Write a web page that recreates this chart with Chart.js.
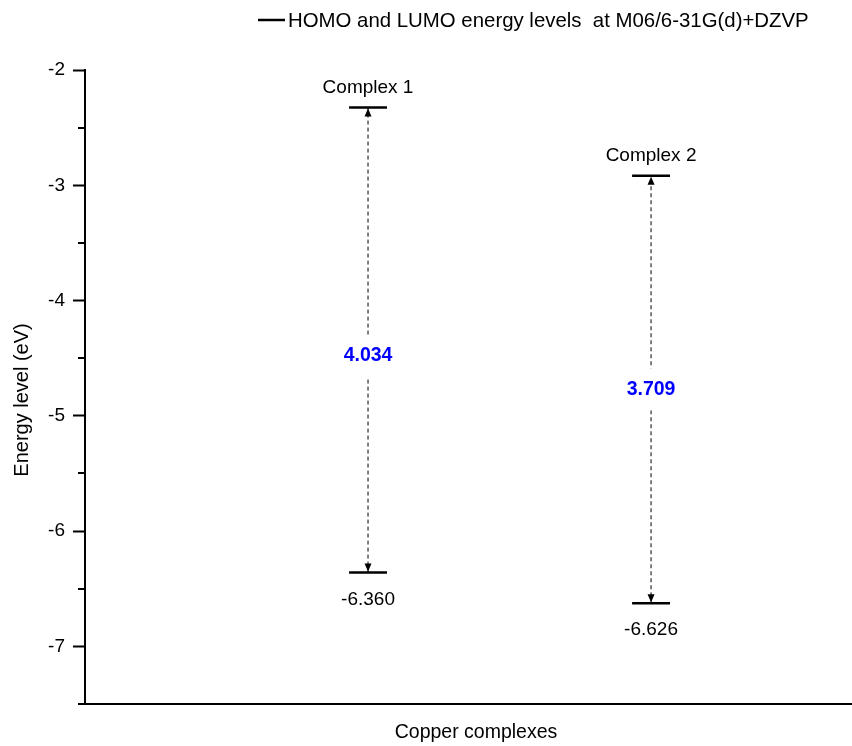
<!DOCTYPE html>
<html>
<head>
<meta charset="utf-8">
<script src="https://cdn.jsdelivr.net/npm/chart.js@4/dist/chart.umd.min.js"></script>
<style>
  body { margin: 0; background: #fff; }
  #wrap { width: 852px; height: 746px; }
</style>
</head>
<body>
<div id="wrap"><canvas id="c" width="852" height="746"></canvas></div>
<script>
// ===== Data =====
const complexes = ["Complex 1", "Complex 2"];
const complexX = [1, 2];
const lumo = [-2.326, -2.917];
const homo = [-6.360, -6.626];
const gap = ["4.034", "3.709"];
const homoText = ["-6.360", "-6.626"];
const gapLabelY = [-4.48, -4.77];
const minorTicks = [-2.5, -3.5, -4.5, -5.5, -6.5, -7.5];
const legendText = "HOMO and LUMO energy levels  at M06/6-31G(d)+DZVP";

const FONT = "'Liberation Sans', Arial, sans-serif";
const halfW = 0.067; // half width of an energy level bar (x units)

// ===== Build datasets =====
const datasets = [];
complexX.forEach((cx, i) => {
    // dashed connector HOMO -> LUMO
    datasets.push({
        data: [{ x: cx, y: homo[i] }, { x: cx, y: lumo[i] }],
        borderColor: "#000",
        borderWidth: 1,
        borderDash: [4, 3]
    });
    // LUMO bar
    datasets.push({
        data: [{ x: cx - halfW, y: lumo[i] }, { x: cx + halfW, y: lumo[i] }],
        borderColor: "#000",
        borderWidth: 2.5
    });
    // HOMO bar
    datasets.push({
        data: [{ x: cx - halfW, y: homo[i] }, { x: cx + halfW, y: homo[i] }],
        borderColor: "#000",
        borderWidth: 2.5
    });
});
datasets.forEach(d => { d.showLine = true; d.pointRadius = 0; d.fill = false; });

// ===== Extra drawing: labels, arrowheads, minor ticks, titles, legend =====
const decor = {
    id: "decor",
    afterDatasetsDraw(chart) {
        const ctx = chart.ctx;
        const xs = chart.scales.x, ys = chart.scales.y;
        ctx.save();
        ctx.textAlign = "center";
        ctx.textBaseline = "middle";

        complexX.forEach((cx, i) => {
            const px = xs.getPixelForValue(cx);
            const pl = ys.getPixelForValue(lumo[i]);
            const ph = ys.getPixelForValue(homo[i]);

            // arrowheads
            ctx.fillStyle = "#000";
            ctx.beginPath();
            ctx.moveTo(px, pl + 1);
            ctx.lineTo(px - 3.5, pl + 9);
            ctx.lineTo(px + 3.5, pl + 9);
            ctx.closePath();
            ctx.fill();
            ctx.beginPath();
            ctx.moveTo(px, ph - 1);
            ctx.lineTo(px - 3.5, ph - 9);
            ctx.lineTo(px + 3.5, ph - 9);
            ctx.closePath();
            ctx.fill();

            // names and HOMO values
            ctx.font = "19px " + FONT;
            ctx.fillText(complexes[i], px, pl - 20);
            ctx.fillText(homoText[i], px, ph + 27);

            // gap value on white box
            const pg = ys.getPixelForValue(gapLabelY[i]);
            ctx.fillStyle = "#fff";
            ctx.fillRect(px - 30, pg - 21, 60, 42);
            ctx.fillStyle = "#0000ff";
            ctx.font = "bold 19.5px " + FONT;
            ctx.fillText(gap[i], px, pg);
        });

        // minor ticks on the y axis
        ctx.strokeStyle = "#000";
        ctx.lineWidth = 2;
        const ax = chart.chartArea.left;
        minorTicks.forEach(v => {
            const py = Math.round(ys.getPixelForValue(v));
            ctx.beginPath();
            ctx.moveTo(ax - 7, py);
            ctx.lineTo(ax, py);
            ctx.stroke();
        });

        // axis titles
        ctx.fillStyle = "#000";
        ctx.font = "19.5px " + FONT;
        ctx.fillText("Copper complexes", 476, 733);
        ctx.save();
        ctx.translate(22, 400);
        ctx.rotate(-Math.PI / 2);
        ctx.font = "20px " + FONT;
        ctx.fillText("Energy level (eV)", 0, 0);
        ctx.restore();

        // legend
        ctx.lineWidth = 2.5;
        ctx.beginPath();
        ctx.moveTo(258, 20);
        ctx.lineTo(285, 20);
        ctx.stroke();
        ctx.textAlign = "left";
        ctx.font = "20.4px " + FONT;
        ctx.fillText(legendText, 288, 21);

        ctx.restore();
    }
};

new Chart(document.getElementById("c"), {
    type: "scatter",
    data: { datasets: datasets },
    options: {
        responsive: false,
        animation: false,
        layout: { padding: { top: 70, left: 0, right: 0, bottom: 0 } },
        plugins: {
            legend: { display: false },
            tooltip: { enabled: false }
        },
        scales: {
            x: {
                type: "linear",
                min: 0,
                max: 2.71,
                afterFit: s => { s.height = 42; },
                ticks: { display: false },
                grid: { display: true, drawOnChartArea: false, drawTicks: false },
                border: { display: true, color: "#000", width: 2 }
            },
            y: {
                type: "linear",
                min: -7.5,
                max: -2,
                afterFit: s => { s.width = 85; },
                ticks: {
                    stepSize: 1,
                    includeBounds: false,
                    color: "#000",
                    padding: 8,
                    font: { family: FONT, size: 19 }
                },
                grid: {
                    drawOnChartArea: false,
                    drawTicks: true,
                    tickLength: 12,
                    tickWidth: 2,
                    tickColor: "#000"
                },
                border: { display: true, color: "#000", width: 2 }
            }
        }
    },
    plugins: [decor]
});
</script>
</body>
</html>
